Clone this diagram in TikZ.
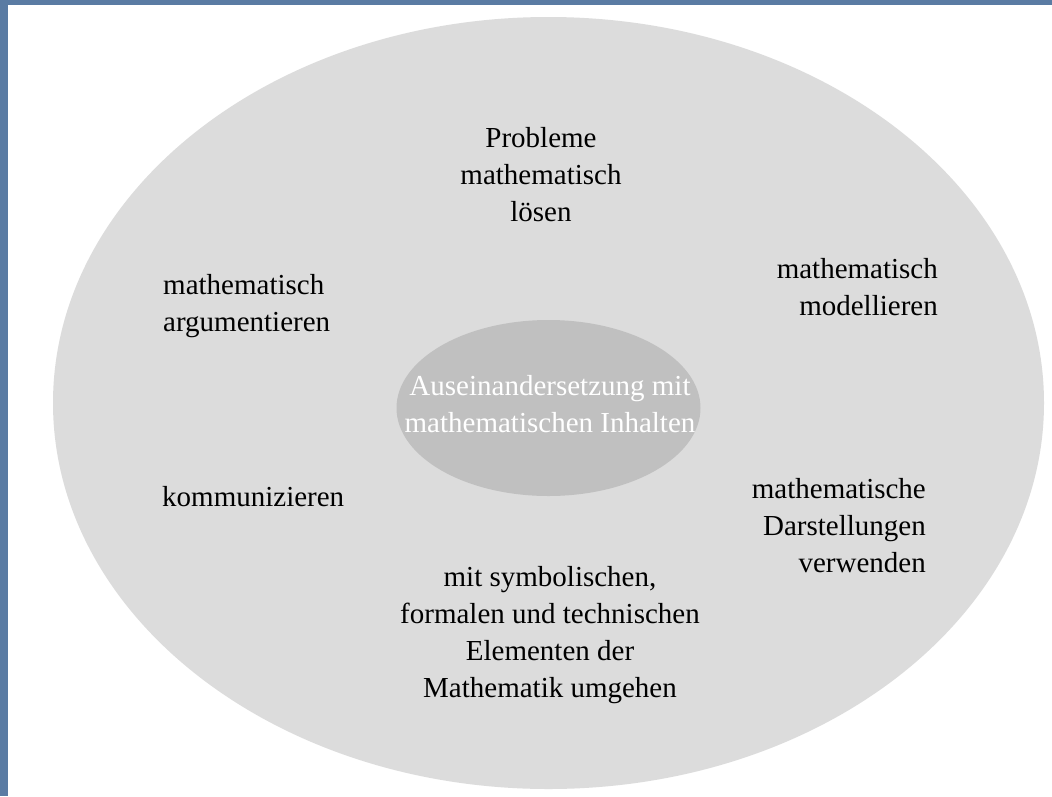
\documentclass[tikz,border=0pt]{standalone}
\usepackage{fontspec}
\setmainfont{Liberation Serif}
\begin{document}
\begin{tikzpicture}[x=1pt,y=-1pt,
  lbl/.style={inner sep=0pt, font=\fontsize{29}{37}\selectfont, text=black},
  inlbl/.style={lbl, text=white}]
\definecolor{bgblue}{HTML}{5A7BA3}
\definecolor{outerg}{HTML}{DCDCDC}
\definecolor{innerg}{HTML}{C0C0C0}
\useasboundingbox (0,0) rectangle (1052,796);
\fill[white] (0,0) rectangle (1052,796);
\fill[bgblue] (0,0) rectangle (1052,5);
\fill[bgblue] (0,0) rectangle (8,796);
\fill[outerg] (548.5,403) ellipse [x radius=495.5, y radius=386];
\fill[innerg] (548.5,408) ellipse [x radius=152, y radius=88];
\node[inlbl, align=center] (inhalt) at (550,404) {Auseinandersetzung mit\\mathematischen Inhalten};
\node[lbl, align=center] (probleme) at (541,175) {Probleme\\mathematisch\\lösen};
\node[lbl, align=left, anchor=west] (argu) at (163,306) {mathematisch\\argumentieren};
\node[lbl, align=right, anchor=east] (modell) at (938,287) {mathematisch\\modellieren};
\node[lbl, anchor=west] (komm) at (162,497) {kommunizieren};
\node[lbl, align=right, anchor=east] (darst) at (926,526) {mathematische\\Darstellungen\\verwenden};
\node[lbl, align=center] (symb) at (550,635) {mit symbolischen,\\formalen und technischen\\Elementen der\\Mathematik umgehen};
\end{tikzpicture}
\end{document}
